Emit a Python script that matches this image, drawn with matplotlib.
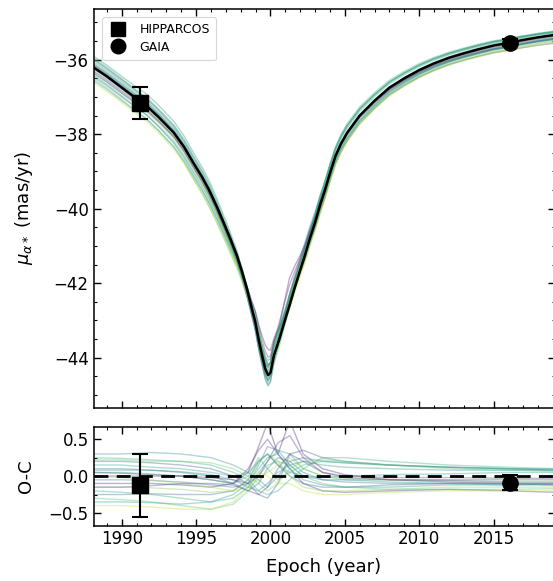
import numpy as np
import matplotlib
matplotlib.use("Agg")
import matplotlib.pyplot as plt
from matplotlib.ticker import MultipleLocator
from matplotlib.lines import Line2D

# ---------------- data ----------------
main_epoch = [1988.0, 1989.0, 1990.0, 1991.0, 1991.7, 1992.5, 1993.5, 1994.2, 1994.8,
              1995.4, 1995.85, 1996.4, 1996.85, 1997.3, 1997.75, 1998.1, 1998.42,
              1998.7, 1998.98, 1999.2, 1999.43, 1999.65, 1999.84, 2000.0, 2000.24,
              2000.6, 2000.94, 2001.28, 2001.61, 2001.96, 2002.31, 2002.65, 2003.0,
              2003.34, 2003.68, 2004.0, 2004.37, 2004.75, 2005.16, 2006.0, 2007.0,
              2008.0, 2009.0, 2010.0, 2011.0, 2012.0, 2013.0, 2014.0, 2015.0,
              2016.0, 2017.0, 2018.0, 2019.2]
main_pm = [-36.18, -36.45, -36.75, -37.05, -37.25, -37.55, -37.96, -38.35, -38.76,
           -39.15, -39.48, -39.95, -40.37, -40.80, -41.26, -41.70, -42.15,
           -42.60, -43.04, -43.50, -43.93, -44.30, -44.47, -44.40, -43.93,
           -43.50, -43.04, -42.60, -42.15, -41.70, -41.26, -40.80, -40.37,
           -39.90, -39.48, -39.05, -38.59, -38.25, -37.96, -37.50, -37.10,
           -36.75, -36.50, -36.28, -36.10, -35.95, -35.83, -35.72, -35.62,
           -35.55, -35.47, -35.40, -35.33]

oc_epoch = [1988, 1990, 1992, 1994, 1996, 1997.5, 1998.5, 1999.2, 1999.8, 2000.5,
            2001.3, 2002.2, 2003.5, 2005, 2008, 2012, 2016, 2019.2]
sample_shade = [0.05, 0.10, 0.25, 0.30, 0.35, 0.40, 0.45, 0.50, 0.55, 0.60,
                0.65, 0.70, 0.75, 0.80, 0.85, 0.20, 0.50, 0.90, 0.15, 0.62]
sample_oc = [
    [0.05, 0.04, 0.02, 0.00, -0.05, -0.10, 0.05, 0.40, 0.72, 0.30, 0.75, 0.30, 0.10, 0.02, -0.05, -0.08, -0.10, -0.12],
    [-0.10, -0.10, -0.10, -0.12, -0.15, -0.10, 0.10, 0.35, 0.50, 0.30, 0.10, -0.10, -0.20, -0.22, -0.20, -0.18, -0.20, -0.22],
    [0.20, 0.20, 0.18, 0.15, 0.10, 0.00, -0.10, -0.25, -0.30, -0.10, 0.30, 0.35, 0.25, 0.20, 0.15, 0.12, 0.10, 0.08],
    [-0.25, -0.25, -0.24, -0.25, -0.25, -0.20, -0.05, 0.20, 0.30, 0.15, 0.00, -0.10, -0.15, -0.15, -0.12, -0.10, -0.10, -0.10],
    [0.10, 0.10, 0.08, 0.05, 0.00, -0.10, -0.20, -0.10, 0.10, 0.25, 0.20, 0.05, -0.05, -0.05, -0.05, -0.05, -0.05, -0.05],
    [-0.05, -0.05, -0.06, -0.08, -0.12, -0.15, -0.10, 0.15, 0.40, 0.35, 0.15, 0.00, -0.05, -0.08, -0.10, -0.10, -0.12, -0.12],
    [0.30, 0.30, 0.32, 0.30, 0.25, 0.15, 0.05, -0.05, -0.15, 0.00, 0.20, 0.25, 0.20, 0.18, 0.15, 0.12, 0.10, 0.10],
    [-0.35, -0.35, -0.36, -0.38, -0.35, -0.25, -0.10, 0.10, 0.25, 0.30, 0.10, -0.05, -0.12, -0.15, -0.15, -0.12, -0.12, -0.10],
    [0.15, 0.15, 0.12, 0.10, 0.05, 0.00, 0.05, 0.20, 0.30, 0.15, 0.05, 0.00, -0.02, 0.00, 0.02, 0.03, 0.05, 0.05],
    [-0.20, -0.22, -0.25, -0.30, -0.35, -0.30, -0.15, 0.05, 0.20, 0.35, 0.30, 0.10, 0.00, -0.05, -0.08, -0.10, -0.10, -0.10],
    [0.05, 0.05, 0.03, 0.00, -0.05, -0.10, 0.00, 0.25, 0.10, -0.05, 0.05, 0.15, 0.20, 0.18, 0.15, 0.12, 0.10, 0.08],
    [-0.30, -0.32, -0.35, -0.40, -0.45, -0.38, -0.20, 0.00, 0.15, 0.20, 0.15, 0.00, -0.10, -0.15, -0.18, -0.18, -0.18, -0.17],
    [0.22, 0.22, 0.20, 0.20, 0.18, 0.10, 0.00, -0.10, -0.20, -0.10, 0.10, 0.20, 0.22, 0.20, 0.15, 0.10, 0.08, 0.06],
    [-0.15, -0.15, -0.16, -0.18, -0.22, -0.20, -0.05, 0.20, 0.30, 0.20, 0.00, -0.15, -0.20, -0.20, -0.18, -0.15, -0.15, -0.15],
    [0.00, -0.02, -0.05, -0.10, -0.15, -0.20, -0.15, -0.05, 0.05, 0.15, 0.25, 0.10, 0.00, -0.03, -0.05, -0.05, -0.05, -0.05],
    [-0.15, -0.15, -0.13, -0.10, -0.10, -0.12, -0.20, -0.25, -0.15, 0.10, 0.30, 0.20, 0.05, 0.00, -0.02, -0.02, -0.03, -0.03],
    [0.08, 0.08, 0.08, 0.06, 0.02, -0.05, -0.15, -0.20, -0.10, 0.05, 0.15, 0.20, 0.15, 0.12, 0.10, 0.08, 0.08, 0.08],
    [-0.40, -0.40, -0.42, -0.45, -0.45, -0.35, -0.15, 0.05, 0.00, -0.10, -0.10, -0.20, -0.25, -0.25, -0.22, -0.20, -0.20, -0.20],
    [0.00, 0.00, 0.00, 0.00, -0.02, -0.05, -0.10, 0.00, 0.20, 0.45, 0.55, 0.25, 0.05, -0.02, -0.05, -0.06, -0.08, -0.08],
    [0.25, 0.24, 0.22, 0.20, 0.15, 0.05, -0.05, -0.20, -0.25, -0.20, -0.05, 0.10, 0.25, 0.25, 0.20, 0.15, 0.12, 0.10],
]

obs_names = ["HIPPARCOS", "GAIA"]
obs_epoch = [1991.25, 2016.1]
obs_pm = [-37.16, -35.54]
obs_err = [0.42, 0.10]
obs_oc = [-0.125, -0.09]
obs_oc_err = [0.43, 0.10]
obs_marker = ["s", "o"]

xlim = (1988.1, 2019.1)
ylim_top = (-45.35, -34.64)
ylim_bot = (-0.67, 0.67)

# ---------------- figure ----------------
W, H = 553, 581
fig = plt.figure(figsize=(W / 100, H / 100), dpi=100)
left = 93.5 / W
width = (554.5 - 93.5) / W
ax1 = fig.add_axes([left, 1 - 408 / H, width, (408 - 9) / H])
ax2 = fig.add_axes([left, 1 - 525.5 / H, width, (525.5 - 426.7) / H])

cmap = plt.get_cmap("viridis")
me = np.array(main_epoch)
mp = np.array(main_pm)

for shade, oc in zip(sample_shade, sample_oc):
    col = cmap(shade)
    off = np.interp(me, oc_epoch, oc)
    ax1.plot(me, mp + off, color=col, alpha=0.35, lw=1.0, zorder=2)
    ax2.plot(oc_epoch, oc, color=col, alpha=0.35, lw=1.0, zorder=2)

ax1.plot(me, mp, color="black", lw=1.8, zorder=4)
ax2.axhline(0.0, color="black", lw=2.0, ls=(0, (5, 3)), zorder=4)

for name, t, v, e, oc, oce, m in zip(obs_names, obs_epoch, obs_pm, obs_err,
                                     obs_oc, obs_oc_err, obs_marker):
    ax1.errorbar(t, v, yerr=e, fmt=m, color="black", ms=11, capsize=6,
                 elinewidth=1.5, capthick=1.5, zorder=6)
    ax2.errorbar(t, oc, yerr=oce, fmt=m, color="black", ms=11, capsize=6,
                 elinewidth=1.5, capthick=1.5, zorder=6)

for ax in (ax1, ax2):
    ax.set_xlim(*xlim)
    ax.xaxis.set_major_locator(MultipleLocator(5))
    ax.xaxis.set_minor_locator(MultipleLocator(1))
    ax.tick_params(which="both", direction="in", top=True, right=True,
                   labelsize=12)
    ax.tick_params(which="major", length=5, width=1)
    ax.tick_params(which="minor", length=2.5, width=0.8)
    for s in ax.spines.values():
        s.set_linewidth(1.1)

ax1.set_ylim(*ylim_top)
ax1.yaxis.set_major_locator(MultipleLocator(2))
ax1.yaxis.set_minor_locator(MultipleLocator(0.5))
ax1.tick_params(labelbottom=False)
ax1.set_ylabel(r"$\mu_{\alpha*}$ (mas/yr)", fontsize=13)

ax2.set_ylim(*ylim_bot)
ax2.yaxis.set_major_locator(MultipleLocator(0.5))
ax2.yaxis.set_minor_locator(MultipleLocator(0.25))
ax2.set_ylabel("O-C", fontsize=13)
ax2.set_xlabel("Epoch (year)", fontsize=13, labelpad=7)

lab_x = (35 - 93.5) / (554.5 - 93.5)
ax1.yaxis.set_label_coords(lab_x, 0.5)
ax2.yaxis.set_label_coords(lab_x, 0.5)

handles = [Line2D([], [], ls="none", marker=m, color="black", ms=10.5)
           for m in obs_marker]
leg = ax1.legend(handles, obs_names, loc="upper left", fontsize=9,
                 frameon=True, handletextpad=0.9, borderpad=0.5,
                 labelspacing=0.35, handlelength=1.6,
                 bbox_to_anchor=(0.005, 0.995))
leg.get_frame().set_edgecolor("#cccccc")
leg.get_frame().set_linewidth(0.8)

fig.savefig("out.png", dpi=100)
